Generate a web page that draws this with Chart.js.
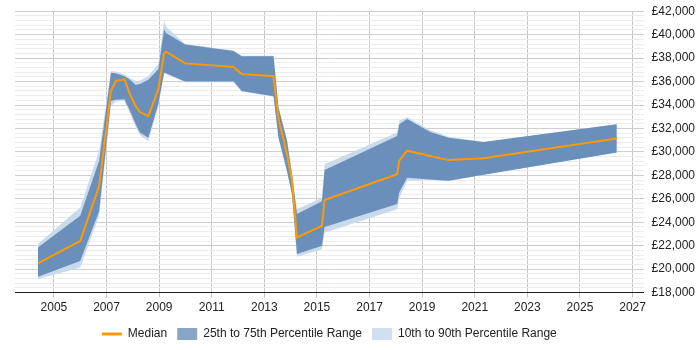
<!DOCTYPE html>
<html>
<head>
<meta charset="utf-8">
<script src="https://cdn.jsdelivr.net/npm/chart.js@4.4.1/dist/chart.umd.min.js"></script>
<style>
  html, body { margin: 0; padding: 0; background: #fff; overflow: hidden; }
  #wrap { width: 700px; height: 354px; margin-top: -4px; }
</style>
</head>
<body>
<div id="wrap"><canvas id="salaryChart"></canvas></div>
<script>
// Data
const years = [2004.39, 2006.0, 2006.72, 2007.17, 2007.35, 2007.68, 2007.89, 2008.11, 2008.27, 2008.59,
  2008.97, 2009.19, 2009.26, 2009.99, 2011.83, 2012.14, 2013.35, 2013.54, 2013.86, 2014.05,
  2014.24, 2015.19, 2015.29, 2018.05, 2018.13, 2018.43, 2019.31, 2020.0, 2021.34, 2026.4];

const median = [20500, 22400, 27100, 35200, 36050, 36200, 34900, 33900, 33400, 33050,
  35350, 38400, 38550, 37550, 37250, 36650, 36450, 32800, 29800, 27550,
  22700, 23700, 25900, 28100, 29250, 30100, 29650, 29300, 29450, 31150];

const p75 = [21850, 24550, 29250, 36750, 36700, 36450, 36150, 35700, 35800, 36150,
  37050, 40450, 40150, 39150, 38600, 38150, 38150, 33750, 30950, 28100,
  24700, 25800, 28450, 31350, 32350, 32800, 31700, 31200, 30850, 32350];

const p25 = [19350, 20700, 24950, 34350, 34450, 34500, 33500, 32350, 31650, 31200,
  34100, 36750, 36700, 36000, 36000, 35200, 34750, 31200, 28400, 26400,
  21300, 22000, 23600, 25550, 26550, 27800, 27650, 27550, 28050, 29950];

const p90 = [22150, 25250, 30100, 36900, 36850, 36600, 36300, 36050, 36100, 36450,
  37500, 41200, 40700, 39200, 38650, 38200, 38200, 33900, 31100, 28300,
  25100, 26100, 28950, 31650, 32650, 32950, 31850, 31300, 30850, 32350];

const p10 = [19150, 20150, 24550, 33900, 34300, 34350, 33300, 32100, 31450, 30900,
  33850, 36700, 36650, 35950, 35950, 35150, 34700, 31100, 28300, 26300,
  21050, 21700, 23100, 25100, 26100, 27550, 27600, 27500, 28050, 29950];

const xTicks = [2005, 2007, 2009, 2011, 2013, 2015, 2017, 2019, 2021, 2023, 2025, 2027];
const seriesNames = ["Median", "25th to 75th Percentile Range", "10th to 90th Percentile Range"];

// Colours
const ORANGE = "#ff9900";
const DARK_BAND = "#6a8fba";
const LIGHT_BAND = "#c9daec";
const DARK_KEY = "#88a7c8";
const LIGHT_KEY = "#cfdff0";

function toPoints(values) {
  return values.map((v, i) => ({ x: years[i], y: v }));
}

const ctx = document.getElementById("salaryChart").getContext("2d");

new Chart(ctx, {
  type: "line",
  data: {
    datasets: [
      {
        label: seriesNames[0],
        data: toPoints(median),
        borderColor: ORANGE,
        borderWidth: 2,
        pointRadius: 0,
        fill: false,
        order: 0
      },
      {
        label: seriesNames[1],
        data: toPoints(p75),
        borderWidth: 0,
        borderColor: "rgba(0,0,0,0)",
        backgroundColor: DARK_BAND,
        pointRadius: 0,
        fill: 3,
        order: 1
      },
      {
        label: seriesNames[2],
        data: toPoints(p90),
        borderWidth: 0,
        borderColor: "rgba(0,0,0,0)",
        backgroundColor: LIGHT_BAND,
        pointRadius: 0,
        fill: 4,
        order: 2
      },
      {
        label: "p25",
        data: toPoints(p25),
        borderWidth: 0,
        borderColor: "rgba(0,0,0,0)",
        pointRadius: 0,
        fill: false,
        order: 3
      },
      {
        label: "p10",
        data: toPoints(p10),
        borderWidth: 0,
        borderColor: "rgba(0,0,0,0)",
        pointRadius: 0,
        fill: false,
        order: 4
      }
    ]
  },
  options: {
    responsive: true,
    maintainAspectRatio: false,
    animation: false,
    layout: { padding: { left: 15, right: -3, top: 0, bottom: 0 } },
    plugins: {
      tooltip: { enabled: false },
      legend: {
        position: "bottom",
        fullSize: false,
        labels: {
          usePointStyle: true,
          pointStyleWidth: 20,
          boxHeight: 12,
          padding: 10,
          color: "#222",
          font: { family: "'Liberation Sans', Arial, sans-serif", size: 12 },
          filter: (item) => item.datasetIndex < 3,
          generateLabels: (chart) => {
            const fills = [ORANGE, DARK_KEY, LIGHT_KEY];
            return seriesNames.map((name, i) => ({
              text: name,
              datasetIndex: i,
              fillStyle: fills[i],
              strokeStyle: fills[i],
              lineWidth: i === 0 ? 3 : 0,
              pointStyle: i === 0 ? "line" : "rect",
              fontColor: "#222",
              hidden: false
            }));
          }
        }
      }
    },
    scales: {
      x: {
        type: "linear",
        min: 2003.52,
        max: 2027.42,
        afterBuildTicks: (axis) => {
          axis.ticks = xTicks.map(v => ({ value: v }));
        },
        ticks: {
          autoSkip: false,
          maxRotation: 0,
          color: "#222",
          font: { family: "'Liberation Sans', Arial, sans-serif", size: 12 },
          callback: (v) => String(v)
        },
        grid: {
          color: "#c8c8c8",
          tickLength: 5
        },
        border: { color: "#222", width: 1 }
      },
      y: {
        position: "right",
        min: 18000,
        max: 42000,
        ticks: {
          stepSize: 400,
          autoSkip: false,
          padding: 8,
          color: "#222",
          font: { family: "'Liberation Sans', Arial, sans-serif", size: 12 },
          callback: (v) => (v % 2000 === 0 ? "£" + v.toLocaleString("en-GB") : "")
        },
        grid: {
          drawTicks: false,
          color: (c) => (c.tick && c.tick.value % 2000 === 0 ? "#cfcfcf" : "#ececec")
        },
        border: { display: false }
      }
    }
  }
});
</script>
</body>
</html>
